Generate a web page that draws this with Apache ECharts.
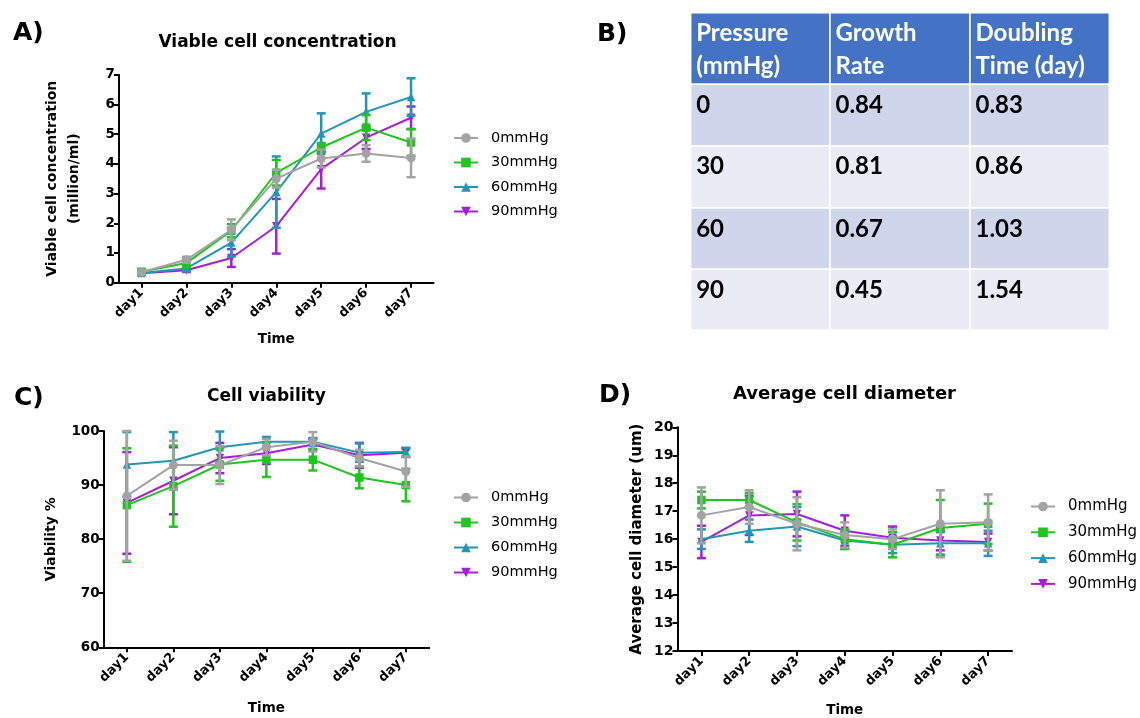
<!DOCTYPE html>
<html><head><meta charset="utf-8">
<script src="https://cdn.jsdelivr.net/npm/echarts@6.0.0/dist/echarts.min.js"></script>
<style>html,body{margin:0;padding:0;background:#fff}#c{width:1140px;height:718px}</style>
</head><body><div id="c"></div>
<script>
// ---------- DATA ----------
const days = ['day1','day2','day3','day4','day5','day6','day7'];
const groups = ['0mmHg','30mmHg','60mmHg','90mmHg'];

// A) Viable cell concentration (million/ml): mean and SD
const vcc0    = [0.35, 0.77, 1.78, 3.50, 4.18, 4.35, 4.20];
const vcc0sd  = [0.05, 0.10, 0.35, 0.30, 0.30, 0.28, 0.65];
const vcc30   = [0.37, 0.66, 1.75, 3.70, 4.55, 5.22, 4.72];
const vcc30sd = [0.06, 0.15, 0.22, 0.43, 0.15, 0.42, 0.45];
const vcc60   = [0.33, 0.48, 1.35, 3.05, 5.02, 5.75, 6.25];
const vcc60sd = [0.04, 0.08, 0.47, 1.20, 0.68, 0.62, 0.63];
const vcc90   = [0.32, 0.42, 0.83, 1.90, 3.82, 4.88, 5.55];
const vcc90sd = [0.04, 0.06, 0.30, 0.92, 0.65, 0.38, 0.38];

// C) Cell viability (%)
const via0    = [88.0, 93.7, 93.7, 97.0, 98.0, 95.0, 92.5];
const via0sd  = [12.0, 4.5, 3.5, 1.5, 1.8, 1.5, 2.8];
const via30   = [86.3, 89.8, 93.8, 94.7, 94.7, 91.4, 90.0];
const via30sd = [10.5, 7.5, 3.0, 3.2, 2.0, 2.0, 3.0];
const via60   = [93.8, 94.5, 97.0, 98.0, 98.0, 96.0, 96.1];
const via60sd = [6.0, 5.3, 2.9, 0.9, 0.7, 1.7, 0.8];
const via90   = [86.7, 90.8, 95.0, 95.9, 97.5, 95.5, 96.0];
const via90sd = [9.4, 6.2, 2.8, 2.0, 1.0, 2.3, 0.8];

// D) Average cell diameter (um)
const dia0    = [16.85, 17.15, 16.55, 16.15, 16.00, 16.55, 16.60];
const dia0sd  = [1.00, 0.60, 0.95, 0.45, 0.35, 1.20, 1.00];
const dia30   = [17.40, 17.40, 16.60, 16.00, 15.80, 16.40, 16.55];
const dia30sd = [0.30, 0.25, 0.65, 0.35, 0.45, 1.00, 0.72];
const dia60   = [16.00, 16.30, 16.45, 15.95, 15.80, 15.85, 15.85];
const dia60sd = [0.35, 0.40, 0.70, 0.30, 0.30, 0.40, 0.45];
const dia90   = [15.90, 16.85, 16.90, 16.30, 16.05, 15.95, 15.90];
const dia90sd = [0.58, 0.70, 0.80, 0.55, 0.40, 0.35, 0.30];

// B) Table
const tableHeader  = ['Pressure\n(mmHg)', 'Growth\nRate', 'Doubling\nTime (day)'];
const pressure     = ['0', '30', '60', '90'];
const growthRate   = ['0.84', '0.81', '0.67', '0.45'];
const doublingTime = ['0.83', '0.86', '1.03', '1.54'];

// ---------- STYLE / LAYOUT ----------
const FONT = 'DejaVu Sans';
const colors  = {'0mmHg':'#A3A3A3','30mmHg':'#1FC41F','60mmHg':'#2396B6','90mmHg':'#A51ED8'};
const symbols = {'0mmHg':'circle','30mmHg':'rect','60mmHg':'triangle','90mmHg':'path://M0,0L10,0L5,9Z'};
const zOrder  = {'90mmHg':0,'60mmHg':1,'30mmHg':2,'0mmHg':3};

const panels = [
  { grid:{left:119, top:74.7, width:314.5, height:208},
    y:{min:0, max:7, interval:1, name:'Viable cell concentration\n(million/ml)', gap:34, nameSize:14, nameLH:22},
    xNameGap:50, tickSize:13.5, means:[vcc0,vcc30,vcc60,vcc90], sds:[vcc0sd,vcc30sd,vcc60sd,vcc90sd],
    legend:{left:453, top:130, gap:8.5, size:14.5} },
  { grid:{left:103.6, top:431, width:325.5, height:216.3},
    y:{min:60, max:100, interval:10, name:'Viability %', gap:43, nameSize:14, nameLH:18},
    xNameGap:54, tickSize:13.5, means:[via0,via30,via60,via90], sds:[via0sd,via30sd,via60sd,via90sd],
    legend:{left:453, top:489.5, gap:9, size:14.5} },
  { grid:{left:677.5, top:427.3, width:334.5, height:223.7},
    y:{min:12, max:20, interval:1, name:'Average cell diameter (um)', gap:31, nameSize:15, nameLH:18},
    xNameGap:52, tickSize:14, means:[dia0,dia30,dia60,dia90], sds:[dia0sd,dia30sd,dia60sd,dia90sd],
    legend:{left:1030, top:498.5, gap:9.8, size:15} }
];

function errRender(params, api) {
  const lo = api.coord([api.value(0), api.value(1)]);
  const hi = api.coord([api.value(0), api.value(2)]);
  const w = 4.5;
  const style = {stroke: api.visual('color'), lineWidth: 2.5, fill: null};
  return {type:'group', children:[
    {type:'line', shape:{x1:lo[0], y1:lo[1], x2:hi[0], y2:hi[1]}, style},
    {type:'line', shape:{x1:lo[0]-w, y1:lo[1], x2:lo[0]+w, y2:lo[1]}, style},
    {type:'line', shape:{x1:hi[0]-w, y1:hi[1], x2:hi[0]+w, y2:hi[1]}, style}
  ]};
}

const grids = [], xAxes = [], yAxes = [], lineSeries = [], errSeries = [], legends = [];
panels.forEach((p, pi) => {
  grids.push(p.grid);
  xAxes.push({
    type:'category', gridIndex:pi, data:days, boundaryGap:true,
    name:'Time', nameLocation:'middle', nameGap:p.xNameGap,
    nameTextStyle:{fontFamily:FONT, fontWeight:'bold', fontSize:13.5, color:'#000'},
    axisLine:{show:true, lineStyle:{color:'#000', width:2}},
    axisTick:{show:true, alignWithLabel:true, length:5, lineStyle:{color:'#000', width:2}},
    axisLabel:{interval:0, rotate:45, margin:8, fontFamily:FONT, fontWeight:'bold', fontSize:13, color:'#000'},
    splitLine:{show:false}
  });
  yAxes.push({
    type:'value', gridIndex:pi, min:p.y.min, max:p.y.max, interval:p.y.interval,
    name:p.y.name, nameLocation:'middle', nameGap:p.y.gap, nameRotate:90,
    nameTextStyle:{fontFamily:FONT, fontWeight:'bold', fontSize:p.y.nameSize, lineHeight:p.y.nameLH, color:'#000', align:'center'},
    axisLine:{show:true, lineStyle:{color:'#000', width:2}},
    axisTick:{show:true, length:5, lineStyle:{color:'#000', width:2}},
    axisLabel:{margin:4, fontFamily:FONT, fontWeight:'bold', fontSize:p.tickSize, color:'#000'},
    splitLine:{show:false}
  });
  groups.forEach((g, gi) => {
    const z = 10 + 2 * zOrder[g];
    lineSeries.push({
      type:'line', name:g, xAxisIndex:pi, yAxisIndex:pi, data:p.means[gi],
      symbol:symbols[g], symbolSize: g === '0mmHg' ? 9 : 8.5, showSymbol:true,
      lineStyle:{color:colors[g], width:2}, itemStyle:{color:colors[g]},
      z: z + 1, animation:false, emphasis:{disabled:true}
    });
    errSeries.push({
      type:'custom', name:g, xAxisIndex:pi, yAxisIndex:pi,
      data: days.map((d, i) => [i, p.means[gi][i] - p.sds[gi][i], p.means[gi][i] + p.sds[gi][i]]),
      encode:{x:0, y:[1,2]}, renderItem:errRender, itemStyle:{color:colors[g]},
      z: z, animation:false, silent:true
    });
  });
  legends.push({
    orient:'vertical', left:p.legend.left, top:p.legend.top, itemGap:p.legend.gap,
    itemWidth:24, itemHeight:12, data:groups, selectedMode:false, padding:0,
    textStyle:{fontFamily:FONT, fontSize:p.legend.size, color:'#000', lineHeight:16, padding:[0,0,0,8]}
  });
});

// Table graphics built from the table arrays
const tblX = [690.7, 830, 970, 1109.3];
const tblY = [12.7, 84.3, 145.7, 208, 269.3, 330];
const rowFill = ['#CFD5EA', '#E9EBF5'];
const TFONT = 'Lato';
const graphics = [];
const bodyCols = [pressure, growthRate, doublingTime];
for (let c = 0; c < 3; c++) {
  graphics.push({type:'rect', shape:{x:tblX[c], y:tblY[0], width:tblX[c+1]-tblX[c], height:tblY[1]-tblY[0]},
    style:{fill:'#4472C4', stroke:'#fff', lineWidth:1.5}});
  graphics.push({type:'text', x:tblX[c]+5.5, y:17, style:{text:tableHeader[c], fill:'#fff',
    font:'bold 24px ' + TFONT, lineHeight:33, verticalAlign:'top', align:'left'}});
  for (let r = 0; r < pressure.length; r++) {
    graphics.push({type:'rect', shape:{x:tblX[c], y:tblY[r+1], width:tblX[c+1]-tblX[c], height:tblY[r+2]-tblY[r+1]},
      style:{fill:rowFill[r % 2], stroke:'#fff', lineWidth:1.5}});
    graphics.push({type:'text', x:tblX[c]+5.5, y:tblY[r+1]+21, style:{text:bodyCols[c][r], fill:'#000',
      font:'bold 24px ' + TFONT, verticalAlign:'middle', align:'left'}});
  }
}

const titleStyle = {fontFamily:FONT, fontWeight:'bold', color:'#000'};
const option = {
  animation:false,
  backgroundColor:'#fff',
  title:[
    {text:'A)', left:13, top:21, padding:0, textStyle:Object.assign({fontSize:25}, titleStyle)},
    {text:'Viable cell concentration', left:277.5, textAlign:'center', top:34.5, padding:0, textStyle:Object.assign({fontSize:17}, titleStyle)},
    {text:'B)', left:597, top:22, padding:0, textStyle:Object.assign({fontSize:25}, titleStyle)},
    {text:'C)', left:14, top:386, padding:0, textStyle:Object.assign({fontSize:25}, titleStyle)},
    {text:'Cell viability', left:266.4, textAlign:'center', top:388.5, padding:0, textStyle:Object.assign({fontSize:17}, titleStyle)},
    {text:'D)', left:599, top:383, padding:0, textStyle:Object.assign({fontSize:25}, titleStyle)},
    {text:'Average cell diameter', left:844.5, textAlign:'center', top:385, padding:0, textStyle:Object.assign({fontSize:18}, titleStyle)}
  ],
  grid:grids, xAxis:xAxes, yAxis:yAxes, legend:legends,
  series: lineSeries.concat(errSeries),
  graphic: graphics
};
const chart = echarts.init(document.getElementById('c'), null, {renderer:'canvas'});
chart.setOption(option);
</script>
</body></html>
